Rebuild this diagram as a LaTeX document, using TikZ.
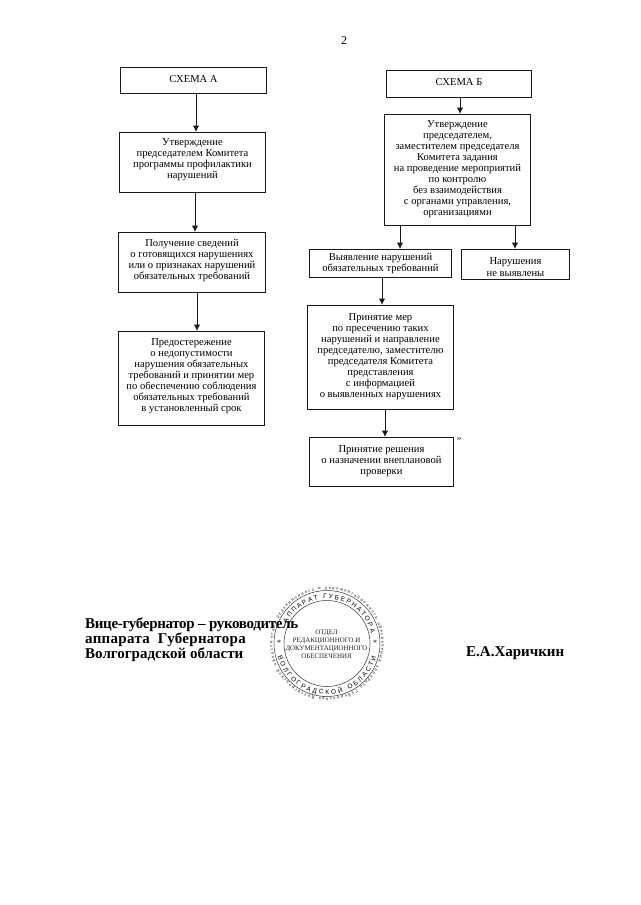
\documentclass[tikz,border=0pt]{standalone}
\usepackage{fontspec}
\setmainfont{Liberation Serif}
\setsansfont{Liberation Sans}
\usetikzlibrary{arrows.meta,decorations.text}

\tikzset{
  schemebox/.style={draw=black!90, line width=1pt, align=center, inner sep=0pt,
                    font=\fontsize{10.6}{11}\selectfont},
  flow/.style={draw=black!90, line width=1pt, -{Latex[length=6.5pt,width=6.5pt]}},
  signline/.style={inner sep=0pt, align=left, font=\bfseries\fontsize{15}{13.4}\selectfont},
  stampring/.style={draw=black!80, line width=0.5pt},
  stamptext/.style={inner sep=0pt, align=center, text=black!85,
                    font=\fontsize{6.9}{8}\selectfont}
}

\begin{document}
\begin{tikzpicture}[x=1pt,y=-1pt]
        \useasboundingbox (0,0) rectangle (640,905);
        % page number
        \node[font=\fontsize{12}{12}\selectfont] (pagenum) at (344,41) {2};
        % left column
        \node[schemebox,minimum width=146pt,minimum height=26pt,text depth=3pt] (a0) at (193.5,80.5) {СХЕМА А};
        \node[schemebox,minimum width=146pt,minimum height=60pt,text depth=8pt] (a1) at (192.5,162.5)
          {Утверждение\\ председателем Комитета\\ программы профилактики\\ нарушений};
        \node[schemebox,minimum width=147pt,minimum height=60pt,text depth=7pt] (a2) at (192,262.5)
          {Получение сведений\\ о готовящихся нарушениях\\ или о признаках нарушений\\ обязательных требований};
        \node[schemebox,minimum width=146pt,minimum height=94pt,text depth=6pt] (a3) at (191.5,378.5)
          {Предостережение\\ о недопустимости\\ нарушения обязательных\\ требований и принятии мер\\ по обеспечению соблюдения\\ обязательных требований\\ в установленный срок};
        % right column
        \node[schemebox,minimum width=145pt,minimum height=27pt,text depth=4pt] (b0) at (459,84) {СХЕМА Б};
        \node[schemebox,minimum width=146pt,minimum height=111pt,text depth=3pt] (b1) at (457.5,170)
          {Утверждение\\ председателем,\\ заместителем председателя\\ Комитета задания\\ на проведение мероприятий\\ по контролю\\ без взаимодействия\\ с органами управления,\\ организациями};
        \node[schemebox,minimum width=142pt,minimum height=28pt] (b2) at (380.5,263.5)
          {Выявление нарушений\\ обязательных требований};
        \node[schemebox,minimum width=108pt,minimum height=30pt] (b3) at (515.5,264.5)
          {\rule{0pt}{12.5pt}Нарушения\\[1pt] не выявлены};
        \node[schemebox,minimum width=146pt,minimum height=104pt,text depth=4pt] (b4) at (380.5,357.5)
          {Принятие мер\\ по пресечению таких\\ нарушений и направление\\ председателю, заместителю\\ председателя Комитета\\ представления\\ с информацией\\ о выявленных нарушениях};
        \node[schemebox,minimum width=144pt,minimum height=49pt,text depth=4pt] (b5) at (381.5,462)
          {Принятие решения\\ о назначении внеплановой\\ проверки};
        \node[font=\fontsize{10}{10}\selectfont] (closing) at (459,441) {"};
        % connectors
        \draw[flow] (a0.south -| 196,0) -- (a1.north -| 196,0);
        \draw[flow] (a1.south -| 195,0) -- (a2.north -| 195,0);
        \draw[flow] (a2.south -| 197,0) -- (a3.north -| 197,0);
        \draw[flow] (b0.south -| 460,0) -- (b1.north -| 460,0);
        \draw[flow] (b1.south -| 400,0) -- (b2.north -| 400,0);
        \draw[flow] (b1.south -| 515,0) -- (b3.north -| 515,0);
        \draw[flow] (b2.south -| 382,0) -- (b4.north -| 382,0);
        \draw[flow] (b4.south -| 385,0) -- (b5.north -| 385,0);
        % seal
        \coordinate (S) at (327,643.5);
        \draw[stampring] (S) circle[radius=43pt];
        \draw[stampring] (S) circle[radius=53pt];
        \node[stamptext] (sealtext) at (326.5,644)
          {ОТДЕЛ\\ РЕДАКЦИОННОГО И\\ ДОКУМЕНТАЦИОННОГО\\ ОБЕСПЕЧЕНИЯ};
        \node[font=\fontsize{8}{8}\selectfont] (starl) at (279,643) {*};
        \node[font=\fontsize{8}{8}\selectfont] (starr) at (375,643) {*};
        \path[decorate,decoration={text along path,text align={fit to path},
              text={|\sffamily\fontsize{6.5}{6.5}\selectfont|АППАРАТ ГУБЕРНАТОРА}}]
          (S) ++(153:45pt) arc[start angle=153,end angle=13,radius=45pt];
        \path[decorate,decoration={text along path,text align={fit to path},
              text={|\sffamily\fontsize{6.5}{6.5}\selectfont|ВОЛГОГРАДСКОЙ ОБЛАСТИ}}]
          (S) ++(195:51pt) arc[start angle=195,end angle=345,radius=51pt];
        \path[decorate,decoration={text along path,text align={fit to path},
              text={|\fontsize{4.5}{4.5}\selectfont|отдел редакционного и документационного обеспечения аппарата Губернатора Волгоградской области}}]
          (S) ++(175:54.5pt) arc[start angle=175,end angle=-182,radius=54.5pt];
        % signature
        \node[signline,anchor=west] (signrole) at (85,640)
          {{\addfontfeatures{LetterSpace=-2.2}Вице-губернатор -- руководитель}\\ {\addfontfeatures{LetterSpace=2}аппарата\ \ Губернатора}\\ Волгоградской области};
        \node[signline,anchor=west] (signname) at (466,653) {Е.А.Харичкин};
      \end{tikzpicture}
\end{document}
